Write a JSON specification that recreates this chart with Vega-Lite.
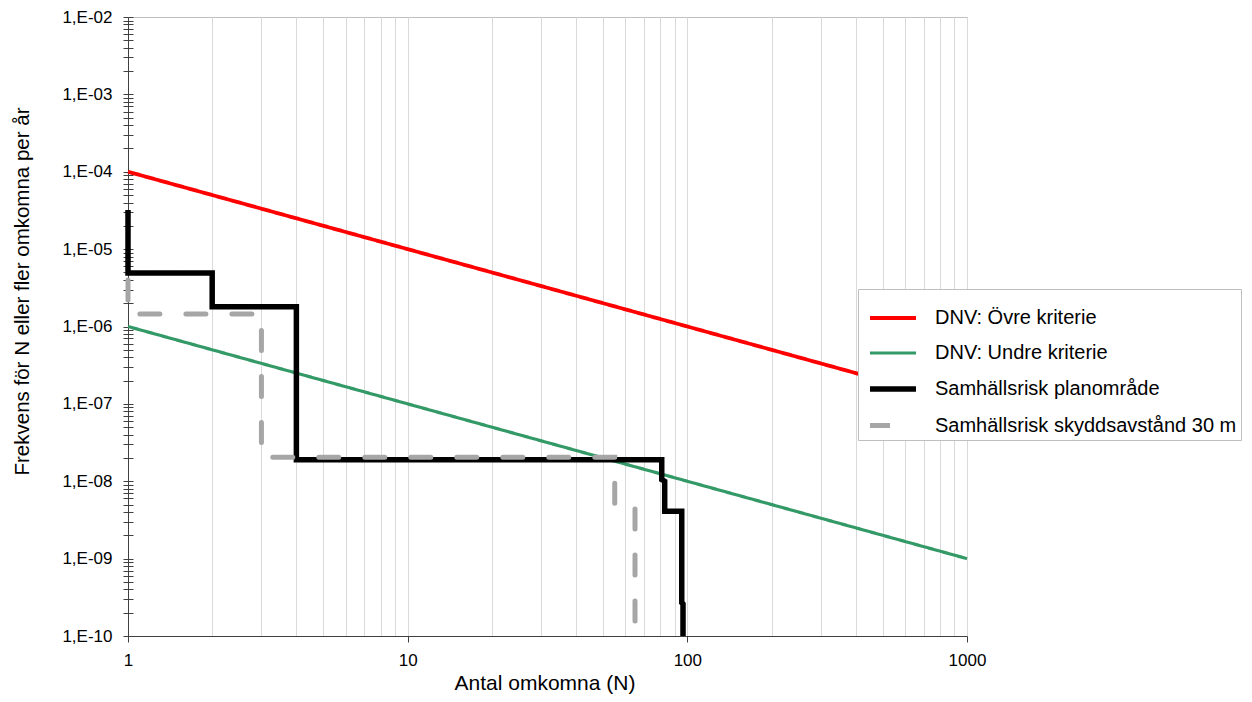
{
  "$schema": "https://vega.github.io/schema/vega-lite/v6.json",
  "width": 839,
  "height": 619,
  "autosize": "none",
  "padding": {"left": 128, "top": 17, "right": 285, "bottom": 66},
  "background": "white",
  "config": {
    "font": "Liberation Sans",
    "view": {"stroke": "#BFBFBF", "strokeWidth": 1},
    "axis": {
      "labelFont": "Liberation Sans",
      "titleFont": "Liberation Sans",
      "labelColor": "#000000",
      "titleColor": "#000000",
      "titleFontWeight": "normal",
      "domainColor": "#404040",
      "tickColor": "#404040",
      "labelFlush": false,
      "labelOverlap": false
    },
    "legend": {
      "orient": "none",
      "legendX": 730,
      "legendY": 272,
      "symbolType": "stroke",
      "symbolSize": 2116,
      "symbolOffset": 5,
      "labelFont": "Liberation Sans",
      "labelFontSize": 20,
      "labelColor": "#000000",
      "labelLimit": 400,
      "labelOffset": 16,
      "rowPadding": -10,
      "padding": 4,
      "strokeColor": "#BFBFBF",
      "fillColor": "#FFFFFF"
    }
  },
  "data": {
    "values": [
      {"serie": "DNV: Övre kriterie", "N": 1, "f": 1e-4, "o": 1},
      {"serie": "DNV: Övre kriterie", "N": 10, "f": 1e-5, "o": 2},
      {"serie": "DNV: Övre kriterie", "N": 100, "f": 1e-6, "o": 3},
      {"serie": "DNV: Övre kriterie", "N": 1000, "f": 1e-7, "o": 4},
      {"serie": "DNV: Undre kriterie", "N": 1, "f": 1e-6, "o": 1},
      {"serie": "DNV: Undre kriterie", "N": 10, "f": 1e-7, "o": 2},
      {"serie": "DNV: Undre kriterie", "N": 100, "f": 1e-8, "o": 3},
      {"serie": "DNV: Undre kriterie", "N": 1000, "f": 1e-9, "o": 4},
      {"serie": "Samhällsrisk planområde", "N": 1, "f": 3.2e-5, "o": 1},
      {"serie": "Samhällsrisk planområde", "N": 1, "f": 4.9e-6, "o": 2},
      {"serie": "Samhällsrisk planområde", "N": 2, "f": 4.9e-6, "o": 3},
      {"serie": "Samhällsrisk planområde", "N": 2, "f": 1.8e-6, "o": 4},
      {"serie": "Samhällsrisk planområde", "N": 4, "f": 1.8e-6, "o": 5},
      {"serie": "Samhällsrisk planområde", "N": 4, "f": 1.9e-8, "o": 6},
      {"serie": "Samhällsrisk planområde", "N": 81, "f": 1.9e-8, "o": 7},
      {"serie": "Samhällsrisk planområde", "N": 81, "f": 1.05e-8, "o": 8},
      {"serie": "Samhällsrisk planområde", "N": 83, "f": 1.0e-8, "o": 9},
      {"serie": "Samhällsrisk planområde", "N": 83, "f": 4.1e-9, "o": 10},
      {"serie": "Samhällsrisk planområde", "N": 95.5, "f": 4.1e-9, "o": 11},
      {"serie": "Samhällsrisk planområde", "N": 95.5, "f": 2.7e-10, "o": 12},
      {"serie": "Samhällsrisk planområde", "N": 96.5, "f": 2.6e-10, "o": 13},
      {"serie": "Samhällsrisk planområde", "N": 96.5, "f": 1e-10, "o": 14},
      {"serie": "Samhällsrisk skyddsavstånd 30 m", "N": 1, "f": 4e-6, "o": 1},
      {"serie": "Samhällsrisk skyddsavstånd 30 m", "N": 1, "f": 1.45e-6, "o": 2},
      {"serie": "Samhällsrisk skyddsavstånd 30 m", "N": 3, "f": 1.45e-6, "o": 3},
      {"serie": "Samhällsrisk skyddsavstånd 30 m", "N": 3, "f": 2.05e-8, "o": 4},
      {"serie": "Samhällsrisk skyddsavstånd 30 m", "N": 55, "f": 2.05e-8, "o": 5},
      {"serie": "Samhällsrisk skyddsavstånd 30 m", "N": 55, "f": 4.6e-9, "o": 6},
      {"serie": "Samhällsrisk skyddsavstånd 30 m", "N": 65, "f": 4.6e-9, "o": 7},
      {"serie": "Samhällsrisk skyddsavstånd 30 m", "N": 65, "f": 1e-10, "o": 8}
    ]
  },
  "encoding": {
    "x": {
      "field": "N",
      "type": "quantitative",
      "scale": {"type": "log", "domain": [1, 1000], "nice": false},
      "axis": {
        "title": "Antal omkomna (N)",
        "titleFontSize": 21,
        "titleX": 416.5,
        "titleY": 53,
        "titleBaseline": "alphabetic",
        "titleAlign": "center",
        "values": [1, 2, 3, 4, 5, 6, 7, 8, 9, 10, 20, 30, 40, 50, 60, 70, 80, 90, 100, 200, 300, 400, 500, 600, 700, 800, 900, 1000],
        "labelExpr": "abs(log(datum.value)/LN10 - round(log(datum.value)/LN10)) < 0.001 ? format(datum.value, 'd') : ''",
        "labelFontSize": 17,
        "labelPadding": 10,
        "tickSize": 6,
        "tickOpacity": {"condition": {"test": "abs(log(datum.value)/LN10 - round(log(datum.value)/LN10)) < 0.001", "value": 1}, "value": 0},
        "grid": true,
        "gridColor": "#D9D9D9",
        "gridWidth": 1
      }
    },
    "color": {
      "field": "serie",
      "type": "nominal",
      "title": null,
      "scale": {
        "domain": ["DNV: Övre kriterie", "DNV: Undre kriterie", "Samhällsrisk planområde", "Samhällsrisk skyddsavstånd 30 m"],
        "range": ["#FF0000", "#339966", "#000000", "#A6A6A6"]
      }
    },
    "strokeWidth": {
      "field": "serie",
      "type": "nominal",
      "title": null,
      "scale": {
        "type": "ordinal",
        "domain": ["DNV: Övre kriterie", "DNV: Undre kriterie", "Samhällsrisk planområde", "Samhällsrisk skyddsavstånd 30 m"],
        "range": [3.8, 3.2, 5.5, 5]
      }
    },
    "strokeDash": {
      "field": "serie",
      "type": "nominal",
      "title": null,
      "scale": {
        "domain": ["DNV: Övre kriterie", "DNV: Undre kriterie", "Samhällsrisk planområde", "Samhällsrisk skyddsavstånd 30 m"],
        "range": [[1, 0], [1, 0], [1, 0], [20, 26]]
      }
    },
    "order": {"field": "o", "type": "quantitative"}
  },
  "layer": [
    {
      "transform": [{"filter": "datum.serie != 'Samhällsrisk skyddsavstånd 30 m'"}],
      "mark": {"type": "line", "strokeJoin": "miter", "clip": false},
      "encoding": {
        "y": {
          "field": "f",
          "type": "quantitative",
          "scale": {"type": "log", "domain": [1e-10, 1e-2], "nice": false},
          "axis": {
            "orient": "left",
            "title": "Frekvens för N eller fler omkomna per år",
            "titleFontSize": 20.5,
            "titleX": -100,
            "titleY": 274,
            "titleBaseline": "alphabetic",
            "titleAlign": "center",
            "titleAngle": 270,
            "values": [1e-10, 2e-10, 3e-10, 4e-10, 5e-10, 6e-10, 7e-10, 8e-10, 9e-10, 1e-9, 2e-9, 3e-9, 4e-9, 5e-9, 6e-9, 7e-9, 8e-9, 9e-9, 1e-8, 2e-8, 3e-8, 4e-8, 5e-8, 6e-8, 7e-8, 8e-8, 9e-8, 1e-7, 2e-7, 3e-7, 4e-7, 5e-7, 6e-7, 7e-7, 8e-7, 9e-7, 1e-6, 2e-6, 3e-6, 4e-6, 5e-6, 6e-6, 7e-6, 8e-6, 9e-6, 1e-5, 2e-5, 3e-5, 4e-5, 5e-5, 6e-5, 7e-5, 8e-5, 9e-5, 1e-4, 2e-4, 3e-4, 4e-4, 5e-4, 6e-4, 7e-4, 8e-4, 9e-4, 1e-3, 2e-3, 3e-3, 4e-3, 5e-3, 6e-3, 7e-3, 8e-3, 9e-3, 1e-2],
            "labelExpr": "abs(log(datum.value)/LN10 - round(log(datum.value)/LN10)) < 0.001 ? '1,E-' + (round(-log(datum.value)/LN10) < 10 ? '0' : '') + round(-log(datum.value)/LN10) : ''",
            "labelFontSize": 17,
            "labelPadding": 11,
            "tickSize": 5,
            "grid": false
          }
        }
      }
    },
    {
      "transform": [{"filter": "datum.serie == 'Samhällsrisk skyddsavstånd 30 m'"}],
      "mark": {"type": "line", "strokeCap": "round", "clip": false},
      "encoding": {
        "y": {
          "field": "f",
          "type": "quantitative",
          "scale": {"type": "log", "domain": [1e-10, 1e-2], "nice": false},
          "axis": {
            "orient": "left",
            "offset": -5,
            "title": null,
            "domain": false,
            "labels": false,
            "grid": false,
            "tickSize": 5,
            "values": [1e-10, 2e-10, 3e-10, 4e-10, 5e-10, 6e-10, 7e-10, 8e-10, 9e-10, 1e-9, 2e-9, 3e-9, 4e-9, 5e-9, 6e-9, 7e-9, 8e-9, 9e-9, 1e-8, 2e-8, 3e-8, 4e-8, 5e-8, 6e-8, 7e-8, 8e-8, 9e-8, 1e-7, 2e-7, 3e-7, 4e-7, 5e-7, 6e-7, 7e-7, 8e-7, 9e-7, 1e-6, 2e-6, 3e-6, 4e-6, 5e-6, 6e-6, 7e-6, 8e-6, 9e-6, 1e-5, 2e-5, 3e-5, 4e-5, 5e-5, 6e-5, 7e-5, 8e-5, 9e-5, 1e-4, 2e-4, 3e-4, 4e-4, 5e-4, 6e-4, 7e-4, 8e-4, 9e-4, 1e-3, 2e-3, 3e-3, 4e-3, 5e-3, 6e-3, 7e-3, 8e-3, 9e-3, 1e-2]
          }
        }
      }
    }
  ],
  "resolve": {"axis": {"y": "independent"}}
}
